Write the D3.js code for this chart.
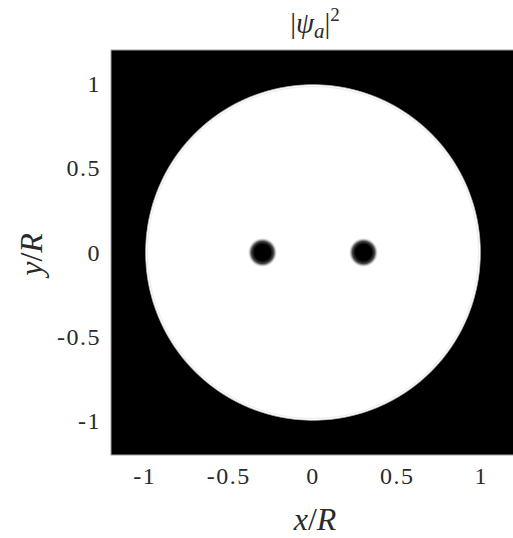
<!DOCTYPE html>
<html>
<head>
<meta charset="utf-8">
<script src="https://cdn.jsdelivr.net/npm/d3@7"></script>
<style>
  html, body { margin: 0; padding: 0; background: #fff; }
  svg { display: block; }
</style>
</head>
<body>
<script>
// Axis ticks
const xTicks = [-1, -0.5, 0, 0.5, 1];
const yTicks = [-1, -0.5, 0, 0.5, 1];
const tickLabels = { "-1": "-1", "-0.5": "-0.5", "0": "0", "0.5": "0.5", "1": "1" };

// Condensate: disk of radius R (=1) with two vortex cores on the x axis
const diskRadius = [1];
const vortexX = [-0.3, 0.3];
const vortexY = [0, 0];
const coreRadius = [0.088];

const W = 513, H = 538;
const FONT = "'Liberation Serif', 'Times New Roman', 'DejaVu Serif', serif";
const svg = d3.select("body").append("svg").attr("width", W).attr("height", H)
  .attr("font-family", FONT);

const x = d3.scaleLinear().domain([-1.2, 1.2]).range([111, 515]);
const y = d3.scaleLinear().domain([-1.2, 1.2]).range([455, 50]);

const defs = svg.append("defs");
defs.append("clipPath").attr("id", "plotClip")
  .append("rect").attr("x", x(-1.2)).attr("y", y(1.2))
  .attr("width", x(1.2) - x(-1.2)).attr("height", y(-1.2) - y(1.2));

// soft edge of the disk with a faint ring just inside the boundary
const dg = defs.append("radialGradient").attr("id", "diskGrad");
[[0, "#fff"], [0.976, "#fff"], [0.984, "#ececec"], [0.99, "#fff"], [0.995, "#999"], [1, "#000"]]
  .forEach(([o, c]) => dg.append("stop").attr("offset", o).attr("stop-color", c));

// vortex core profile
const vg = defs.append("radialGradient").attr("id", "coreGrad");
[[0, "#000", 1], [0.55, "#000", 1], [0.75, "#444", 1], [0.88, "#c8c8c8", 1], [0.95, "#f4f4f4", 1], [1, "#fff", 0]]
  .forEach(([o, c, a]) => vg.append("stop").attr("offset", o).attr("stop-color", c).attr("stop-opacity", a));

const plot = svg.append("g").attr("clip-path", "url(#plotClip)");

plot.append("rect")
  .attr("x", x(-1.2)).attr("y", y(1.2))
  .attr("width", x(1.2) - x(-1.2)).attr("height", y(-1.2) - y(1.2))
  .attr("fill", "#000");

plot.selectAll("ellipse.disk").data(diskRadius).join("ellipse")
  .attr("class", "disk")
  .attr("cx", x(0)).attr("cy", y(0))
  .attr("rx", d => x(d) - x(0)).attr("ry", d => y(0) - y(d))
  .attr("fill", "url(#diskGrad)");

plot.selectAll("ellipse.core").data(vortexX).join("ellipse")
  .attr("class", "core")
  .attr("cx", d => x(d)).attr("cy", (d, i) => y(vortexY[i]))
  .attr("rx", x(coreRadius[0]) - x(0)).attr("ry", y(0) - y(coreRadius[0]))
  .attr("fill", "url(#coreGrad)");

// frame
svg.append("rect")
  .attr("x", x(-1.2)).attr("y", y(1.2))
  .attr("width", x(1.2) - x(-1.2)).attr("height", y(-1.2) - y(1.2))
  .attr("fill", "none").attr("stroke", "#a0a0a0").attr("stroke-width", 1);

const ink = "#2a2a2a";

// tick labels
svg.append("g").selectAll("text").data(xTicks).join("text")
  .attr("x", d => x(d)).attr("y", 484)
  .attr("text-anchor", "middle").attr("font-size", 24).attr("letter-spacing", 1.5).attr("fill", ink)
  .text(d => tickLabels[String(d)]);

svg.append("g").selectAll("text").data(yTicks).join("text")
  .attr("x", 101).attr("y", d => y(d) + 8)
  .attr("text-anchor", "end").attr("font-size", 24).attr("letter-spacing", 1.5).attr("fill", ink)
  .text(d => tickLabels[String(d)]);

// axis labels
const xl = svg.append("text").attr("x", x(0) + 2).attr("y", 530)
  .attr("text-anchor", "middle").attr("font-size", 32).attr("fill", ink);
xl.append("tspan").attr("font-style", "italic").text("x");
xl.append("tspan").text("/");
xl.append("tspan").attr("font-style", "italic").text("R");

const yl = svg.append("text").attr("transform", `translate(42,${y(0) + 2}) rotate(-90)`)
  .attr("text-anchor", "middle").attr("font-size", 32).attr("fill", ink);
yl.append("tspan").attr("font-style", "italic").text("y");
yl.append("tspan").text("/");
yl.append("tspan").attr("font-style", "italic").text("R");

// title |ψ_a|^2
const t = svg.append("text").attr("x", x(0) + 2).attr("y", 33)
  .attr("text-anchor", "middle").attr("font-size", 29).attr("fill", ink);
t.append("tspan").text("|");
t.append("tspan").attr("font-style", "italic").text("ψ");
t.append("tspan").attr("font-style", "italic").attr("font-size", 21).attr("dy", 5).text("a");
t.append("tspan").attr("dy", -5).text("|");
t.append("tspan").attr("font-size", 19).attr("dy", -12).text("2");
</script>
</body>
</html>
